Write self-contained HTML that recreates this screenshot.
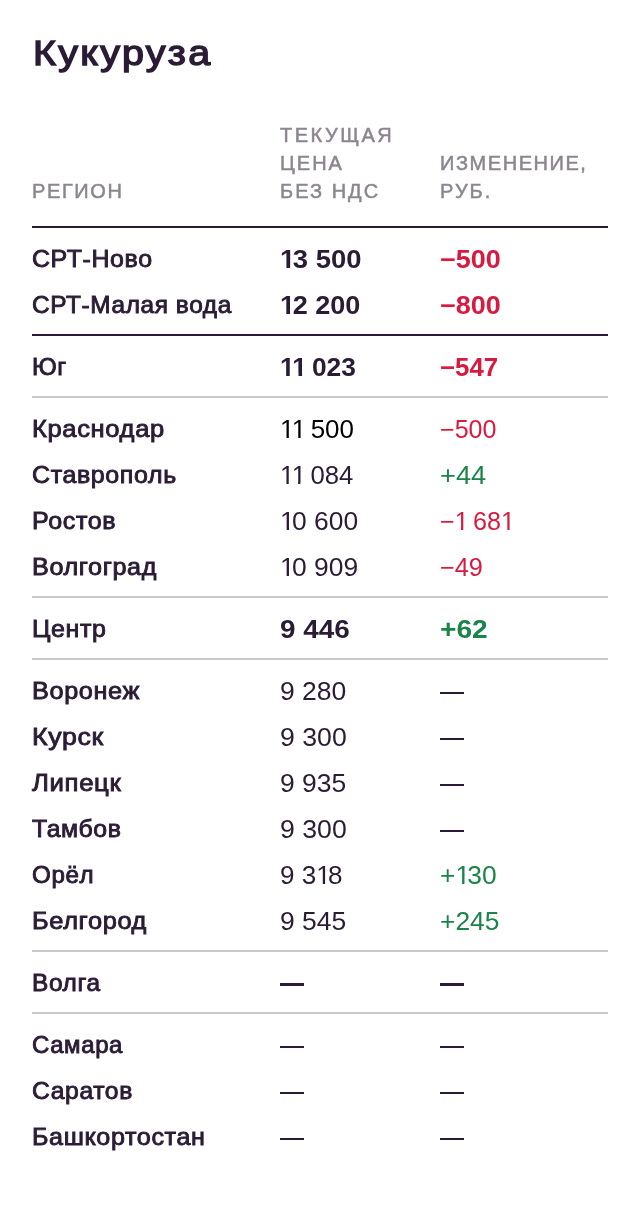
<!DOCTYPE html>
<html><head><meta charset="utf-8"><style>
html,body{margin:0;padding:0;background:#fff;}
.wrap{position:absolute;left:0;top:0;width:640px;height:1208px;will-change:transform;-webkit-font-smoothing:antialiased;}
body{width:640px;height:1208px;position:relative;overflow:hidden;font-family:"Liberation Sans",sans-serif;color:#2b1c35;}
.title{position:absolute;left:33px;top:28px;font-size:34.5px;font-weight:normal;-webkit-text-stroke:1.4px;line-height:50px;letter-spacing:2px;white-space:nowrap;transform-origin:0 0;transform:scaleX(1.145);}
.hd{position:absolute;font-size:20px;line-height:28px;letter-spacing:2px;-webkit-text-stroke:0.5px #8c8590;color:#8c8590;white-space:nowrap;}
.ln{position:absolute;left:32px;width:576px;height:2px;}
.ln.dark{background:#2b1c35;}
.ln.grey{background:#c9c9c9;}
.row{position:absolute;left:0;width:640px;height:46px;line-height:46px;font-size:25px;white-space:nowrap;}
.row>span{position:absolute;top:0;transform-origin:0 50%;}
.o1{display:inline-block;margin-right:-2.6px;clip-path:polygon(0 0,100% 0,100% 30px,8.5px 30px,8.5px 100%,6.3px 100%,6.3px 30px,0 30px);}
.b .o1{margin-right:-2.2px;clip-path:polygon(0 0,100% 0,100% 29px,9.26px 29px,9.26px 100%,5.83px 100%,5.83px 29px,0 29px);}
.c1{left:32px;letter-spacing:0.6px;font-size:24px;line-height:46px;font-weight:normal;-webkit-text-stroke:0.9px;}
.c2{left:280px;}
.c3{left:440px;}
.b{font-weight:bold;}
.dsh{position:absolute;width:24px;background:#2b1c35;}
.blk{color:#000;}
.red{color:#d91a40;}
.green{color:#1b8549;}
</style></head><body><div class="wrap">
<div class="title">Кукуруза</div>
<div class="hd" style="left:32px;top:177px"><span style="letter-spacing:1.6px">РЕГИОН</span></div>
<div class="hd" style="left:280px;top:121px"><span style="letter-spacing:2.5px">ТЕКУЩАЯ</span><br>ЦЕНА<br>БЕЗ НДС</div>
<div class="hd" style="left:440px;top:149px"><span style="letter-spacing:1.55px">ИЗМЕНЕНИЕ,</span><br>РУБ.</div>
<div class="ln dark" style="top:226px"></div>
<div class="ln dark" style="top:334px"></div>
<div class="ln grey" style="top:396px"></div>
<div class="ln grey" style="top:596px"></div>
<div class="ln grey" style="top:658px"></div>
<div class="ln grey" style="top:950px"></div>
<div class="ln grey" style="top:1012px"></div>
<div class="row" style="top:236px"><span class="c1" style="transform:translateY(0px) scaleX(1.0378)">СРТ-Ново</span><span class="c2 b" style="transform:translateY(0px) scaleX(1.0972)"><span class="o1">1</span>3 500</span><span class="c3 red b" style="transform:translateY(0px) scaleX(1.0803)">−500</span></div>
<div class="row" style="top:282px"><span class="c1" style="transform:translateY(0px) scaleX(1.0164)">СРТ-Малая вода</span><span class="c2 b" style="transform:translateY(0px) scaleX(1.0825)"><span class="o1">1</span>2 200</span><span class="c3 red b" style="transform:translateY(0px) scaleX(1.0803)">−800</span></div>
<div class="row" style="top:344px"><span class="c1" style="transform:translateY(0px) scaleX(1.0200)">Юг</span><span class="c2 b" style="transform:translateY(0px) scaleX(1.0526)"><span class="o1">1</span><span class="o1">1</span> 023</span><span class="c3 red b" style="transform:translateY(0px) scaleX(1.0328)">−547</span></div>
<div class="row" style="top:406px"><span class="c1" style="transform:translateY(0px) scaleX(1.0639)">Краснодар</span><span class="c2 blk" style="transform:translateY(0px) scaleX(1.0374)"><span class="o1">1</span><span class="o1">1</span> 500</span><span class="c3 red" style="transform:translateY(0px) scaleX(1.0039)">−500</span></div>
<div class="row" style="top:452px"><span class="c1" style="transform:translateY(0px) scaleX(1.0403)">Ставрополь</span><span class="c2" style="transform:translateY(0px) scaleX(1.0280)"><span class="o1">1</span><span class="o1">1</span> 084</span><span class="c3 green" style="transform:translateY(0px) scaleX(1.0886)">+44</span></div>
<div class="row" style="top:498px"><span class="c1" style="transform:translateY(0px) scaleX(1.0425)">Ростов</span><span class="c2" style="transform:translateY(0px) scaleX(1.0571)"><span class="o1">1</span>0 600</span><span class="c3 red" style="transform:translateY(0px) scaleX(1.0056)">−<span class="o1">1</span> 68<span class="o1">1</span></span></div>
<div class="row" style="top:544px"><span class="c1" style="transform:translateY(0px) scaleX(1.0481)">Волгоград</span><span class="c2" style="transform:translateY(0px) scaleX(1.0568)"><span class="o1">1</span>0 909</span><span class="c3 red" style="transform:translateY(0px) scaleX(1.0126)">−49</span></div>
<div class="row" style="top:606px"><span class="c1" style="transform:translateY(0px) scaleX(1.0395)">Центр</span><span class="c2 b" style="transform:translateY(0px) scaleX(1.1148)">9 446</span><span class="c3 green b" style="transform:translateY(0px) scaleX(1.1240)">+62</span></div>
<div class="row" style="top:668px"><span class="c1" style="transform:translateY(0px) scaleX(1.0518)">Воронеж</span><span class="c2" style="transform:translateY(0px) scaleX(1.0599)">9 280</span></div><i class="dsh" style="left:440px;top:692px;height:2px"></i>
<div class="row" style="top:714px"><span class="c1" style="transform:translateY(0px) scaleX(1.1120)">Курск</span><span class="c2" style="transform:translateY(0px) scaleX(1.0664)">9 300</span></div><i class="dsh" style="left:440px;top:738px;height:2px"></i>
<div class="row" style="top:760px"><span class="c1" style="transform:translateY(0px) scaleX(1.0722)">Липецк</span><span class="c2" style="transform:translateY(0px) scaleX(1.0600)">9 935</span></div><i class="dsh" style="left:440px;top:784px;height:2px"></i>
<div class="row" style="top:806px"><span class="c1" style="transform:translateY(0px) scaleX(1.0337)">Тамбов</span><span class="c2" style="transform:translateY(0px) scaleX(1.0664)">9 300</span></div><i class="dsh" style="left:440px;top:830px;height:2px"></i>
<div class="row" style="top:852px"><span class="c1" style="transform:translateY(0px) scaleX(1.0066)">Орёл</span><span class="c2" style="transform:translateY(0px) scaleX(1.0424)">9 3<span class="o1">1</span>8</span><span class="c3 green" style="transform:translateY(0px) scaleX(1.0559)">+<span class="o1">1</span>30</span></div>
<div class="row" style="top:898px"><span class="c1" style="transform:translateY(0px) scaleX(1.0566)">Белгород</span><span class="c2" style="transform:translateY(0px) scaleX(1.0600)">9 545</span><span class="c3 green" style="transform:translateY(0px) scaleX(1.0545)">+245</span></div>
<div class="row" style="top:960px"><span class="c1" style="transform:translateY(0px) scaleX(1.0189)">Волга</span></div><i class="dsh" style="left:280px;top:983px;height:3px"></i><i class="dsh" style="left:440px;top:983px;height:3px"></i>
<div class="row" style="top:1022px"><span class="c1" style="transform:translateY(0px) scaleX(0.9991)">Самара</span></div><i class="dsh" style="left:280px;top:1046px;height:2px"></i><i class="dsh" style="left:440px;top:1046px;height:2px"></i>
<div class="row" style="top:1068px"><span class="c1" style="transform:translateY(0px) scaleX(1.0279)">Саратов</span></div><i class="dsh" style="left:280px;top:1092px;height:2px"></i><i class="dsh" style="left:440px;top:1092px;height:2px"></i>
<div class="row" style="top:1114px"><span class="c1" style="transform:translateY(0px) scaleX(1.0457)">Башкортостан</span></div><i class="dsh" style="left:280px;top:1138px;height:2px"></i><i class="dsh" style="left:440px;top:1138px;height:2px"></i>
</div></body></html>
